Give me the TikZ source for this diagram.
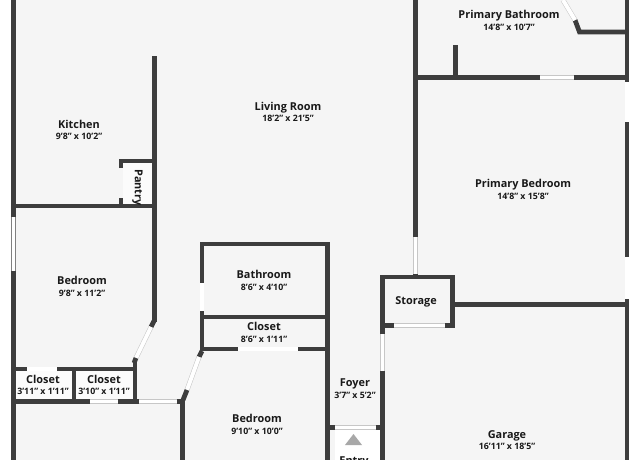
\documentclass[tikz,border=0pt]{standalone}
\usepackage{fontspec}
\setmainfont{Open Sans}
\usepackage{tikz}
\definecolor{walldark}{rgb}{0.24,0.24,0.24}
\definecolor{floorgrey}{rgb}{0.96,0.96,0.96}
\definecolor{edgegrey}{rgb}{0.78,0.78,0.78}
\definecolor{arrowgrey}{rgb}{0.66,0.66,0.66}
\tikzstyle{wall}=[-,draw=walldark,line width=2.7pt,line join=miter]
\tikzstyle{doorway}=[-,draw=edgegrey,double=white,line width=0.3pt,double distance=2.2pt]
\tikzstyle{casement}=[-,draw=black!50,double=white,line width=0.4pt,double distance=1.9pt]
\tikzstyle{roomname}=[inner sep=0pt,anchor=base,yshift=-2.6pt,font=\fontsize{6.2}{7}\selectfont\bfseries,text=black!90]
\tikzstyle{roomsize}=[inner sep=0pt,anchor=base,yshift=-2pt,font=\fontsize{5}{6}\selectfont\bfseries,text=black!90]
\pgfdeclarelayer{edgelayer}
\pgfdeclarelayer{nodelayer}
\pgfsetlayers{edgelayer,nodelayer,main}
\begin{document}
\begin{tikzpicture}[x=0.02cm,y=-0.02cm]
	\useasboundingbox (0, 0) rectangle (640, 460);
	\begin{pgfonlayer}{nodelayer}
		\node [style=roomname] (kitchen) at (79, 123.5) {Kitchen};
		\node [style=roomsize] (kitchensize) at (79, 136) {9'8" x 10'2"};
		\node [style=roomname] (living) at (288, 105.5) {Living Room};
		\node [style=roomsize] (livingsize) at (288, 118) {18'2" x 21'5"};
		\node [style=roomname] (pbath) at (509, 14) {Primary Bathroom};
		\node [style=roomsize] (pbathsize) at (509, 27) {14'8" x 10'7"};
		\node [style=roomname] (pbed) at (523, 183) {Primary Bedroom};
		\node [style=roomsize] (pbedsize) at (523, 195.5) {14'8" x 15'8"};
		\node [style=roomname,rotate=-90,anchor=center,yshift=2.6pt] (pantry) at (133, 183) {Pantry};

		\node [style=roomname] (bedleft) at (82, 280) {Bedroom};
		\node [style=roomsize] (bedleftsize) at (82, 292.5) {9'8" x 11'2"};
		\node [style=roomname] (closeta) at (43, 379) {Closet};
		\node [style=roomsize] (closetasize) at (43, 391) {3'11" x 1'11"};
		\node [style=roomname] (closetb) at (104, 379) {Closet};
		\node [style=roomsize] (closetbsize) at (104, 391) {3'10" x 1'11"};

		\node [style=roomname] (bath) at (264, 274) {Bathroom};
		\node [style=roomsize] (bathsize) at (264, 286.5) {8'6" x 4'10"};
		\node [style=roomname] (closetc) at (264, 326) {Closet};
		\node [style=roomsize] (closetcsize) at (264, 339) {8'6" x 1'11"};
		\node [style=roomname] (bedmid) at (257, 418) {Bedroom};
		\node [style=roomsize] (bedmidsize) at (257, 430.5) {9'10" x 10'0"};

		\node [style=roomname] (foyer) at (355, 382) {Foyer};
		\node [style=roomsize] (foyersize) at (355, 394.5) {3'7" x 5'2"};
		\node [style=roomname] (entry) at (354, 460) {Entry};
		\node [style=roomname] (storage) at (416, 300) {Storage};
		\node [style=roomname] (garage) at (507, 433.5) {Garage};
		\node [style=roomsize] (garagesize) at (507, 446) {16'11" x 18'5"};
	\end{pgfonlayer}
	\begin{pgfonlayer}{edgelayer}
		\fill [floorgrey] (13, 0) rectangle (627, 460);
		% lighter rooms
		\fill [white!60!floorgrey] (16, 371) rectangle (133, 399);
		\fill [white!60!floorgrey] (123, 163) rectangle (152, 204);
		\fill [white] (335, 430) rectangle (380, 460);
		\fill [arrowgrey] (345, 445) -- (362, 445) -- (353.5, 434) -- cycle;

		% outer walls
		\draw [style=wall] (13.5, 0) to (13.5, 217);
		\draw [style=wall] (13.5, 271) to (13.5, 460);
		\draw [style=wall] (627, 0) to (627, 82);
		\draw [style=wall] (627, 122) to (627, 257);
		\draw [style=wall] (627, 299) to (627, 460);
		\draw [style=casement] (13.5, 217) to (13.5, 271);
		\draw [style=casement] (627, 82) to (627, 122);
		\draw [style=casement] (627, 257) to (627, 299);

		% kitchen, pantry, left bedroom
		\draw [style=wall] (154.5, 56) to (154.5, 322);
		\draw [style=wall] (16, 206) to (152, 206);
		\draw [style=wall] (121, 168) -- (121, 161) -- (152, 161);
		\draw [style=wall] (121, 198) to (121, 204);
		\draw [style=wall] (154, 321) to (151, 327);
		\draw [style=doorway] (151, 327) to (136, 358);
		\draw [style=wall] (136, 358) to (134, 363);

		% left closets
		\draw [style=wall] (16, 369) to (27, 369);
		\draw [style=doorway] (27, 369) to (57, 369);
		\draw [style=wall] (57, 369) -- (135, 369) -- (135, 402);
		\draw [style=wall] (135, 369) to (135, 362);
		\draw [style=wall] (74, 369) to (74, 399);
		\draw [style=wall] (16, 401.5) to (90, 401.5);
		\draw [style=doorway] (90, 401.5) to (118, 401.5);
		\draw [style=wall] (118, 401.5) to (139, 401.5);
		\draw [style=doorway] (139, 401.5) to (177, 401.5);
		\draw [style=wall] (177, 401.5) -- (182.5, 401.5) -- (182.5, 460);

		% bathroom, closet, middle bedroom
		\draw [style=wall] (202, 283) -- (202, 244) -- (327.5, 244) -- (327.5, 460);
		\draw [style=doorway] (202, 283) to (202, 311);
		\draw [style=wall] (202, 311) to (202, 351);
		\draw [style=wall] (204, 317) to (325, 317);
		\draw [style=wall] (204, 349) to (238, 349);
		\draw [style=doorway] (238, 349) to (298, 349);
		\draw [style=wall] (298, 349) to (325, 349);
		\draw [style=wall] (202, 351) to (199, 357);
		\draw [style=doorway] (199, 357) to (187, 390);
		\draw [style=wall] (187, 390) to (183, 400);

		% foyer, entry
		\draw [style=wall] (330, 427.5) to (335, 427.5);
		\draw [style=doorway] (335, 427.5) to (376, 427.5);
		\draw [style=wall] (376, 427.5) to (380, 427.5);
		\draw [style=wall] (382.5, 371) to (382.5, 460);
		\draw [style=doorway] (382.5, 334) to (382.5, 371);

		% storage, garage
		\draw [style=wall] (382.5, 334) -- (382.5, 277) -- (452.5, 277) -- (452.5, 328);
		\draw [style=wall] (385, 325.5) to (394, 325.5);
		\draw [style=doorway] (394, 325.5) to (445, 325.5);
		\draw [style=wall] (445, 325.5) to (450, 325.5);
		\draw [style=wall] (455, 304.5) to (625, 304.5);

		% primary rooms
		\draw [style=wall] (415.5, 0) to (415.5, 237);
		\draw [style=doorway] (415.5, 237) to (415.5, 274);
		\draw [style=wall] (415.5, 274) to (415.5, 277);
		\draw [style=wall] (418, 77.5) to (540, 77.5);
		\draw [style=doorway] (540, 77.5) to (574, 77.5);
		\draw [style=wall] (574, 77.5) to (625, 77.5);
		\draw [style=wall] (455.5, 45) to (455.5, 77);
		\draw [style=wall] (625, 32) -- (579.5, 32) -- (575, 20);
		\draw [style=doorway] (575, 20) to (563, 0);
	\end{pgfonlayer}
\end{tikzpicture}
\end{document}
